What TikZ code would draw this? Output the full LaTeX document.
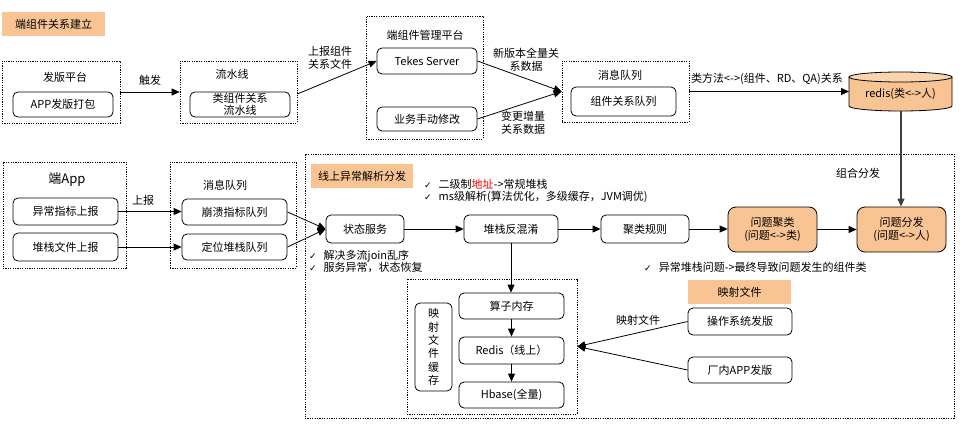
\documentclass[tikz,border=0pt]{standalone}
\usepackage{fontspec}
\setmainfont{Noto Sans CJK SC}
\newfontfamily\symfont{DejaVu Sans}
\usetikzlibrary{arrows.meta}
\definecolor{peach}{RGB}{249,196,148}
\newcommand\ckm{{\symfont\fontsize{9}{10}\selectfont ✓}\hspace{7pt}}
\begin{document}
\begin{tikzpicture}[x=1pt,y=-1pt,
  every node/.append style={font=\fontsize{11}{13}\selectfont},
  box/.style={draw, rounded corners=5pt, line width=0.8pt, align=center, inner sep=0pt},
  obox/.style={box, fill=peach, rounded corners=8pt},
  grp/.style={draw, dash pattern=on 1.2pt off 1.2pt, line width=0.7pt, inner sep=0pt},
  tag/.style={fill=peach, inner sep=0pt},
  arr/.style={-{Triangle[length=8pt,width=7pt]}, line width=0.8pt},
  lbl/.style={align=center, inner sep=1pt},
  txt/.style={anchor=west, inner sep=0pt}]
\useasboundingbox (0,0) rectangle (960,423);

% ---------- top row ----------
\node[tag, minimum width=103, minimum height=24] (t1) at (53.5,24) {端组件关系建立};

\node[grp, minimum width=118, minimum height=62] (g1) at (61,92) {};
\node (g1t) at (65,77) {发版平台};
\node[box, minimum width=100, minimum height=25] (b1) at (63,104.5) {APP发版打包};

\node[grp, minimum width=117, minimum height=62] (g2) at (238.5,92) {};
\node (g2t) at (232,74) {流水线};
\node[box, minimum width=100, minimum height=25, font=\fontsize{11}{11.5}\selectfont] (b2) at (240,104.5) {类组件关系\\流水线};

\node[grp, minimum width=117, minimum height=123] (g3) at (424.5,77.5) {};
\node (g3t) at (425,35) {端组件管理平台};
\node[box, minimum width=100, minimum height=26] (b3) at (427,61) {Tekes Server};
\node[box, minimum width=100, minimum height=24] (b4) at (427,119) {业务手动修改};

\node[grp, minimum width=127, minimum height=61] (g4) at (625.5,91.5) {};
\node (g4t) at (620,75) {消息队列};
\node[box, minimum width=105, minimum height=29] (b5) at (623.5,101.5) {组件关系队列};

% redis cylinder
\fill[peach] (849,77) -- (849,106) arc[start angle=180, end angle=0, x radius=51.5, y radius=5] -- (952,77) -- cycle;
\draw[line width=0.8pt] (849,77) -- (849,106) arc[start angle=180, end angle=0, x radius=51.5, y radius=5] -- (952,77);
\draw[line width=0.8pt, fill=peach!75!white] (900.5,77) ellipse[x radius=51.5, y radius=5];
\node[minimum width=103, minimum height=39, inner sep=0pt] (redis) at (900.5,94) {redis(类<->人)};
\coordinate (redisb) at (901,111);

\draw[arr] (g1) -- (g2) node[midway, above=5pt, lbl] (l1) {触发};
\draw[arr] ([yshift=-2pt]g2.east) -- (b3.west);
\node[lbl] (l2) at (330,58) {上报组件\\关系文件};
\draw[arr] (b3.east) -- (g4.west);
\draw[arr] (b4.east) -- (g4.west);
\node[lbl] (l3) at (526,60) {新版本全量关\\系数据};
\node[lbl] (l4) at (523,123) {变更增量\\关系数据};
\draw[arr] (g4.east) -- (g4.east -| 849,0);
\node[lbl] (l5) at (767,79) {类方法<->(组件、RD、QA)关系};

% ---------- middle left ----------
\node[grp, minimum width=123, minimum height=106] (g6) at (64.5,215) {};
\node[font=\fontsize{13}{15}\selectfont] (g6t) at (67,180) {端App};
\node[box, minimum width=105, minimum height=27] (b6) at (65.5,211.5) {异常指标上报};
\node[box, minimum width=105, minimum height=28] (b7) at (65.5,247) {堆栈文件上报};

\node[grp, minimum width=126, minimum height=106] (g7) at (233,215) {};
\node (g7t) at (225,185) {消息队列};
\node[box, minimum width=105, minimum height=26] (b8) at (234.5,212) {崩溃指标队列};
\node[box, minimum width=105, minimum height=26] (b9) at (234.5,247) {定位堆栈队列};

\draw[arr] (b6.east) -- (b6.east -| b8.west);
\draw[arr] (b7.east) -- (b7.east -| b9.west);
\node[lbl] (l6) at (143,200) {上报};

% ---------- big group ----------
\node[grp, minimum width=649, minimum height=264] (g5) at (629.5,286) {};
\node[tag, minimum width=102, minimum height=24] (t2) at (362,176) {线上异常解析分发};
\node[txt] (k1) at (424,184) {\ckm 二级制\textcolor{red}{地址}->常规堆栈};
\node[txt] (k2) at (424,197) {\ckm ms级解析(算法优化，多级缓存，JVM调优)};

\node[box, minimum width=78, minimum height=28] (s1) at (365,229) {状态服务};
\node[box, minimum width=94, minimum height=28] (s2) at (511,229) {堆栈反混淆};
\node[box, minimum width=88, minimum height=28] (s3) at (645,229) {聚类规则};
\node[obox, minimum width=89, minimum height=45] (s4) at (772.5,229.5) {问题聚类\\(问题<->类)};
\node[obox, minimum width=89, minimum height=45] (s5) at (901.5,229.5) {问题分发\\(问题<->人)};
\node (zh) at (858,173) {组合分发};

\node[txt] (k3) at (309,256) {\ckm 解决多流join乱序};
\node[txt] (k4) at (309,267) {\ckm 服务异常，状态恢复};
\node[txt] (k5) at (644,267) {\ckm 异常堆栈问题->最终导致问题发生的组件类};

\draw[arr] (b8.east) -- (s1.west);
\draw[arr] (b9.east) -- (s1.west);
\draw[arr] (s1) -- (s2);
\draw[arr] (s2) -- (s3);
\draw[arr] (s3.east) -- (s3.east -| s4.west);
\draw[arr] (s4) -- (s5);
\draw[arr, line width=1.1pt, draw=black!75] (redisb) -- (redisb |- s5.north);

% ---------- bottom ----------
\node[grp, minimum width=170, minimum height=135] (g8) at (492,346.5) {};
\node[box, minimum width=37, minimum height=88, font=\fontsize{11}{13.3}\selectfont] (c1) at (433.5,347) {映\\射\\文\\件\\缓\\存};
\node[box, minimum width=105, minimum height=26] (r1) at (511.5,306) {算子内存};
\node[box, minimum width=105, minimum height=27] (r2) at (511.5,350.5) {Redis（线上）};
\node[box, minimum width=105, minimum height=26] (r3) at (511.5,395) {Hbase(全量)};
\draw[arr] (s2.south) -- (s2.south |- r1.north);
\draw[arr] (r1) -- (r2);
\draw[arr] (r2) -- (r3);

\node[tag, minimum width=103, minimum height=24] (m1) at (739.5,292) {映射文件};
\node[box, minimum width=104, minimum height=27] (m2) at (740,321.5) {操作系统发版};
\node[box, minimum width=104, minimum height=26] (m3) at (740,370) {厂内APP发版};
\draw[arr] (m2.west) -- (g8.east);
\draw[arr] (m3.west) -- (g8.east);
\node[lbl] (l7) at (638,320) {映射文件};
\end{tikzpicture}
\end{document}
